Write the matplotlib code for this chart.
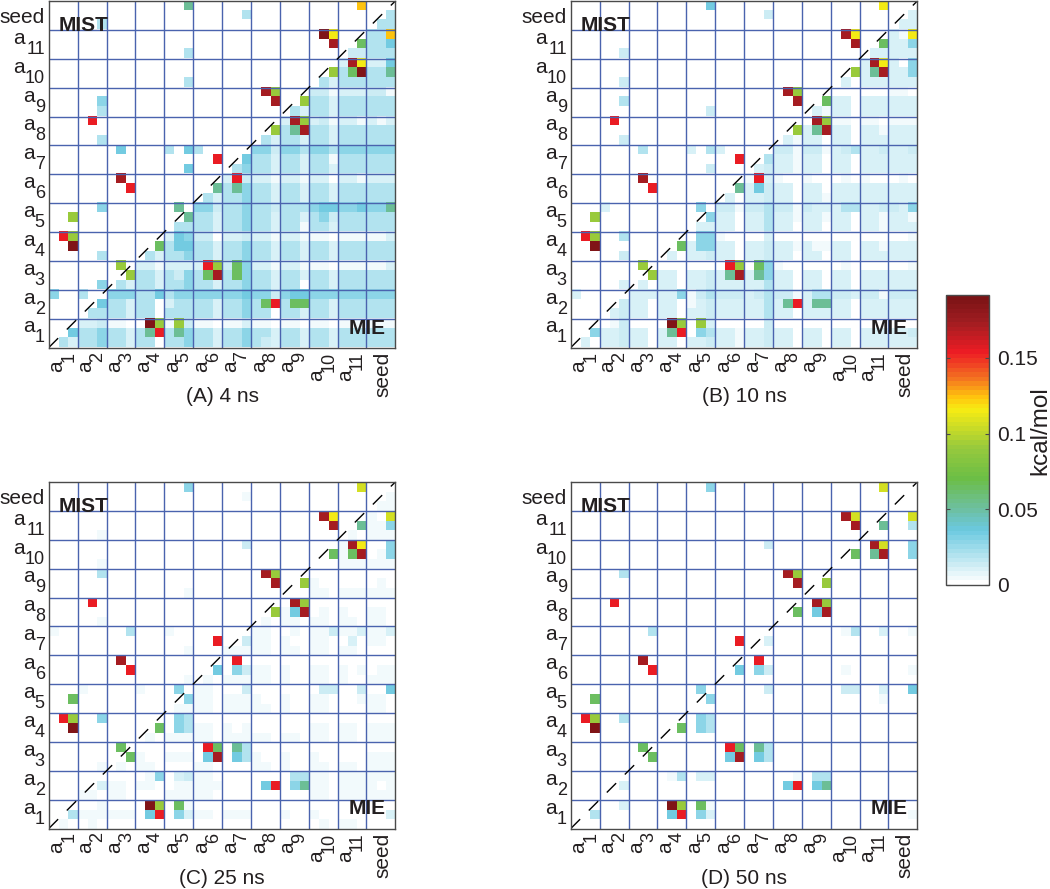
import numpy as np
import matplotlib
matplotlib.use("Agg")
import matplotlib.pyplot as plt
from matplotlib.colors import LinearSegmentedColormap, ListedColormap

plt.rcParams['font.family'] = ['Liberation Sans', 'DejaVu Sans']

W, H = 1050, 889

# letter -> kcal/mol, each cell
LEVELS = {'.': 0, 'a': .004, 'b': .009, 'c': .014, 'd': .02, 'e': .027, 'f': .035,
          'g': .052, 'h': .064, 'i': .09, 'j': .105, 'k': .115, 'l': .123,
          'm': .153, 'n': .172, 'o': .188}

E = "... ... ... ... ... ... ... ... ... ... ... ..."

# rows run top to bottom (seed first), columns left to right (a1 first)
PANEL_A = [
    "... ... ... ... ..g ... ... ... ... ... ..l ...",
    "... ... ... ... ... ... ..d ... ... ... ... ..d",
    "... ..d ... ... ... ... ... ... ... ... ... .dd",
    "... ... ... ... ... ... ... ... ... .ok ... ddl",
    "... ... ... ... ... ... ... ... ... ..n ..h ddf",
    "... ... ... ... ..d ... ... ... ... ... .cc ddd",
    "... ... ... ... ... ... ... ... ... ... bnk bbf",
    "... ... ... ... ... ... ... ... ... ..i dho ddg",
    "... ... ... ... ..d ... ... ... ... .db ddd ddd",
    "... ... ... ... ... ... ... .ni ... cca bbb cca",
    "... ..e ... ... ... ... ... ..n ..i ddb ddd ddd",
    "... ..d ... ... ... ... ... ... .db ddb ddd ddd",
    "... .m. ... ... ... ... ... ... bni bca bba bab",
    "... ... ... ... ... ... ... ..i dgn ddb ddd ddd",
    "... ..d ... ... ... ... ... .db ddb ddb ddd ddd",
    "... ... .f. ... d.f d.. ... eec eed eed eee eee",
    "... ... ... ... ... ..m ..f ddb ddb dda ddd ddd",
    "... ... ... ... ..f ... .de ddb ddb ddb ddd ddd",
    "... ... .n. ... ... ... bmc bba bba bb. bba bbb",
    "... ... ..m ... ... ..g dge ddb ddb ddb ddd ddd",
    "... ... ... ... ... .db dde ddb ddb ddb ddd ddd",
    "... ..e ... ... .g. eec dde ddc ddd eff eef eeg",
    "..i ... ... ... ..g ddb dde ddb ddb dec ddd ddd",
    "... ... ... ... .dd ddb dde ddb dda ddb ddd ddd",
    ".mi ... ... ... bfe cc. bbc bba bba aa. aaa aab",
    "..o ... ... ..h dff ddb dde ddb ddb ddb ddd ddd",
    "... ..d ... .db dde ddb dde ddb ddb ddb ddd ddd",
    "... ... .i. bba bbb bmi che bba bba aa. aaa aab",
    "... ... ..i ddb dce dhn dhe ddb ddb ddb ddd ddd",
    "... ..e .db ddb dde ddb dde ddb dd. ddb ddd ddd",
    "e.. d.. eee ddf dee eee eef eec eff eee eee eee",
    "... ..f ddb dd. bdd ddb dde dhm dhh ddb ddd ddd",
    "... .dd ddb dd. ddd ddb dde dd. ddb ddb ddd ddd",
    "... bbc aa. .oi aic aa. aab aa. aa. aa. aaa aaa",
    "..f dde ddb dgm dge ddb dde ddb ddb ddb ddd ddd",
    ".db dde ddb dd. dde ddb dde dcb ddb ddb ddd ddd",
]

PANEL_B = [
    "... ... ... ... ..f ... ... ... ... ... ..k ...",
    "... ... ... ... ... ... ..c ... ... ... ... ..b",
    "... ... ... ... ... ... ... ... ... ... ... .bb",
    "... ... ... ... ... ... ... ... ... .nk ... bak",
    "... ... ... ... ... ... ... ... ... ..n ..h bbe",
    "... ..c ... ... ... ... ... ... ... ... .bb bbb",
    "... ... ... ... ... ... ... ... ... ... bnk b.e",
    "... ... ... ... ... ... ... ... ... ..i bgn bbe",
    "... ..c ... ... ... ... ... ... ... .b. bbb bbb",
    "... ... ... ... ... ... ... .ni ... ... ... aa.",
    "... ..d ... ... ... ... ... ..n ..h bb. bbb bbb",
    "... ... ... ... ..c ... ... ... .ba bb. bbb bbb",
    "... .m. ... ... ... ... ... ... .ni aa. aa. aaa",
    "... ... ... ... ... ... ... ..i bgn bb. bba bbb",
    "... ..c ... ... ... ... ... .ba bb. bb. bbb bbb",
    "... ... .d. ... b.d b.. ... cca cca bcd bbc bbc",
    "... ... ... ... ... ..m ..d bba bb. bb. bbb bbb",
    "... ... ... ... ..c ... .bc bba bb. bb. bbb bbb",
    "... ... .n. ... ... ... amb a.. a.. .a. a.. .a.",
    "... ... ..m ... ... ..g bfc bb. bb. bbb bbb bbb",
    "... ... ... ... ... .b. bbc bb. bba bbb bbb bbb",
    "... b.. ... ... .e. cca ccd cca cbb bdd bbc cbe",
    "..i ... ... ... ..e bb. bbd bba bba bb. bba bba",
    "... ... ... ... .bb bb. bbd bb. bb. bb. bba bbb",
    ".mi ..d ... ... .ee a.. ..b ... ... ... ... ..a",
    "..o ... ... ..h bee bb. bbc bba baa bb. bba bbb",
    "... ..c ... .b. bbc bb. bbc bb. bb. bb. bbb bbb",
    "... ... .i. ... ... .mi .he a.. ... .a. ... ..a",
    "... ... ..i bb. bbc bgn bge bb. bb. bb. bbb bbb",
    "... ..b .b. bb. bbc bbb bbd bb. bb. bb. bbb bbb",
    "b.. ... bbb bbe acd ccc bcd cca bdd ccb cca ccc",
    "... ..c bb. bb. abc bbb bbd bgm bgg bb. bbb bbb",
    "... .bc bb. bb. bbc bbb bbd bb. bbb bb. bbb bbb",
    "... .ac ... .oi .ib ... ..c ... ... ... ... ...",
    "..e bbc bb. bgm .ed bba bbc bb. bb. bb. bbb bbc",
    ".b. bbc bb. bb. bbc bba bbc bb. bb. bb. bbb bbb",
]

PANEL_C = [
    "... ... ... ... ..e ... ... ... ... ... ..j ...",
    "... ... ... ... ... ... ..a ... ... ... ... ..a",
    "... ... ... ... ... ... ... ... ... ... ... .aa",
    "... ... ... ... ... ... ... ... ... .nk ... a.j",
    "... ... ... ... ... ... ... ... ... ..n ..g aae",
    "... ..a ... ... ... ... ... ... ... ... .a. aaa",
    "... ... ... ... ... ... ..c ... ... ... ank ..e",
    "... ... ... ... ... ... ... ... ... ..h ahn .ae",
    "... ..a ... ... ... ... ... ... ... ... aaa aaa",
    "... ..d ... ... ... ... ... .ni ... ... ... ...",
    "... ... ... ... ... ... ... ..n ..i a.. ... .a.",
    "... ... ... ... ..a ... ... ... ... aa. aaa aaa",
    "... .m. ... ... ... ... ... ... .ni ... ... ...",
    "... ... ... ... ... ... ... ..i afn .a. a.. aa.",
    "... ..a ... ... ... ... ... .a. aa. aa. aa. aa.",
    "a.. ... ..d ... a.. ... ... aa. .a. aac aab aab",
    "... ... ... ... ... ..m ..c aa. a.. aa. .b. aa.",
    "... ... ... ... ..a ... aaa aa. aa. aa. aa. ...",
    "... ... .n. ... ... ... .m. ... ... ... ... ...",
    "... ... ..m ... ... ..f .ec aa. a.. aa. a.a .aa",
    "... ... ... ... ..a .a. aaa aa. a.. aa. a.. aaa",
    "... a.. ... a.. .e. aa. ..c ... ... .cc ..c ..f",
    "..h ... ... ... ..e aa. aaa a.. a.. aa. ..a aa.",
    "... ... ... ... .aa aa. aaa aa. a.. aa. ... aa.",
    ".mi ..e ... ... .ed ... ... ... ... ... ... ...",
    "..o ... ... ..h .ed aa. a.a ... ... aa. aa. aaa",
    "... ... ... .a. aaa aa. aaa aa. aa. aa. aa. aaa",
    "... ... .h. ... ... .mh .gd ... ... ... ... ...",
    "... ... ..h a.. aaa .fn .fd a.. a.. a.. ... aaa",
    "... ..a .a. aa. ... aa. ... aa. a.. aa. aa. aaa",
    "... ... ... .ae .bc aa. ... ... .dd aa. aaa aaa",
    "... ..b aa. aa. .aa aaa ... .fm .eg aa. aaa a.a",
    "... aa. aa. ... aaa aa. ... ... ... aa. aaa aaa",
    "... ..a ... .oi .ha ... ... ... ... ... ... ...",
    "..d aaa aaa .fm .eb aa. aaa ... a.. a.. ... ..b",
    ".a. .a. ... ... ... ... ... ... ... .a. aa. ...",
]

PANEL_D = [
    "... ... ... ... ..e ... ... ... ... ... ..j ...",
    E,
    E,
    "... ... ... ... ... ... ... ... ... .nj ... ..j",
    "... ... ... ... ... ... ... ... ... ..n ..g ..d",
    E,
    "... ... ... ... ... ... ..c ... ... ... .nj ..e",
    "... ... ... ... ... ... ... ... ... ..h .gn ..e",
    E,
    "... ..d ... ... ... ... ... .ni ... ... ... ...",
    "... ... ... ... ... ... ... ..n ..i ... ... ...",
    E,
    "... .m. ... ... ... ... ... ... .ni ... ... ...",
    "... ... ... ... ... ... ... ..h .fn ... ... ...",
    E,
    "... ... ..d ... ... ... ... ... ... .ad ..b ..a",
    "... ... ... ... ... ..m ..b ... ... ... ... ...",
    E,
    "... ... .n. ... ... ... .m. ... ... ... ... ...",
    "... ... ..m ... ... ..f .ec ... ... .a. ... ..a",
    E,
    "... ... ... ... .e. ... ..c ... ... .cc ..b ..f",
    "..h ... ... ... ..e ... ... ... ... ... ..a ...",
    E,
    ".mi ..d ... ... .ed ... ... ... ... ... ... ...",
    "..o ... ... ..h .ed ... ... ... ... ... ... ...",
    E,
    "... ... .h. ... ... .mh .gd ... ... ... ... ...",
    "... ... ..h ... ... .fn .fd ... ... ... ... ...",
    E,
    "... ... ... .ad .bb ... ... ..a .dd ... ... ...",
    "... ..b ... ... ... ... ... .fm .fg ... ... ...",
    E,
    "... ..b ... .oi .ha ... ... ... ... ... ... ...",
    "..d ... ... .fm .eb ... ... ... ... ... ... ..a",
    E,
]

PANELS = [PANEL_A, PANEL_B, PANEL_C, PANEL_D]
CAPTIONS = ["(A) 4 ns", "(B) 10 ns", "(C) 25 ns", "(D) 50 ns"]
SUBS = ["1", "2", "3", "4", "5", "6", "7", "8", "9", "10", "11"]

VMAX = 0.1916
CB_TICKS = [0, 0.05, 0.1, 0.15]
CB_LABELS = ["0", "0.05", "0.1", "0.15"]
STOPS = [(0, "#FFFFFF"), (.035, "#6BC9E0"), (.05, "#6DBF9F"), (.07, "#6CBE45"),
         (.09, "#96C93D"), (.1165, "#F7EC13"), (.125, "#FFC20E"), (.1375, "#F37021"),
         (.155, "#ED1C24"), (.175, "#A01D21"), (VMAX, "#7A1315")]

base = LinearSegmentedColormap.from_list("kcal", [(v / VMAX, c) for v, c in STOPS])
cmap = ListedColormap(base(np.linspace(0, 1, 64)))

INK = "#231F20"
GRID = "#4A63AE"
EDGE = "#4A4A4A"
POS = [(48.8, 1), (570.8, 1), (48.8, 482), (570.8, 482)]
SIZE = 346.5


def to_matrix(rows):
    m = []
    for row in rows:
        row = row.replace(" ", "")
        assert len(row) == 36, row
        m.append([LEVELS[ch] for ch in row])
    assert len(m) == 36
    return np.array(m)


def label_y(ax, g):
    trans = ax.get_yaxis_transform()
    bottom = 36 - 3 * g
    kw = dict(xycoords=trans, textcoords='offset pixels', ha='right', va='baseline', color=INK)
    if g == 11:
        ax.annotate("seed", (0, bottom), (-4.5, 7), fontsize=15, **kw)
        return
    n = len(SUBS[g])
    ax.annotate("a", (0, bottom), (-4 - 10 * n, 15), fontsize=15, **kw)
    ax.annotate(SUBS[g], (0, bottom), (-4, 5), fontsize=13, **kw)


def label_x(ax, g):
    trans = ax.get_xaxis_transform()
    left = 3 * g
    kw = dict(xycoords=trans, textcoords='offset pixels', ha='right', va='baseline',
              rotation=90, rotation_mode='anchor', color=INK)
    if g == 11:
        ax.annotate("seed", (left, 0), (21.7, -4), fontsize=15, **kw)
        return
    n = len(SUBS[g])
    ax.annotate("a", (left, 0), (13.7, -3 - 9.5 * n), fontsize=15, **kw)
    ax.annotate(SUBS[g], (left, 0), (24.5, -4), fontsize=13, **kw)


fig = plt.figure(figsize=(W / 100, H / 100), dpi=100)

for rows, cap, (x0, y0) in zip(PANELS, CAPTIONS, POS):
    ax = fig.add_axes([x0 / W, 1 - (y0 + SIZE) / H, SIZE / W, SIZE / H])
    im = ax.imshow(to_matrix(rows), cmap=cmap, vmin=0, vmax=VMAX, extent=(0, 36, 36, 0),
                   interpolation='nearest', aspect='auto')
    for k in range(3, 36, 3):
        ax.axvline(k, color=GRID, lw=1.0)
        ax.axhline(k, color=GRID, lw=1.0)
    ax.plot([0, 36], [36, 0], color='black', lw=1.0, dashes=(9.5, 8.83))
    ax.set_xlim(0, 36)
    ax.set_ylim(36, 0)
    ax.set_xticks([])
    ax.set_yticks([])
    for s in ax.spines.values():
        s.set_color(EDGE)
        s.set_linewidth(1.0)
    for g in range(12):
        label_y(ax, g)
        label_x(ax, g)
    ax.annotate("MIST", (0, 1), (10, -30), xycoords='axes fraction', textcoords='offset pixels',
                fontsize=15, fontweight='bold', color=INK, va='baseline')
    ax.annotate("MIE", (0, 0), (300, 14), xycoords='axes fraction', textcoords='offset pixels',
                fontsize=15, fontweight='bold', color=INK, va='baseline')
    ax.annotate(cap, (0.5, 0), (0, -55), xycoords='axes fraction', textcoords='offset pixels',
                fontsize=15, color=INK, ha='center', va='baseline')

cax = fig.add_axes([946 / W, 1 - 585 / H, 43 / W, 290 / H])
cb = fig.colorbar(im, cax=cax, ticks=CB_TICKS)
cb.ax.set_yticklabels(CB_LABELS, fontsize=15, color=INK)
cb.ax.tick_params(axis='y', direction='in', left=True, right=True, length=3, width=0.8,
                  color=EDGE, pad=6)
cb.outline.set_edgecolor(EDGE)
cb.outline.set_linewidth(1.0)
fig.text(1040 / W, 1 - 431 / H, "kcal/mol", rotation=90, fontsize=17.5, color=INK,
         ha='center', va='center')

fig.savefig("out.png", dpi=100)
